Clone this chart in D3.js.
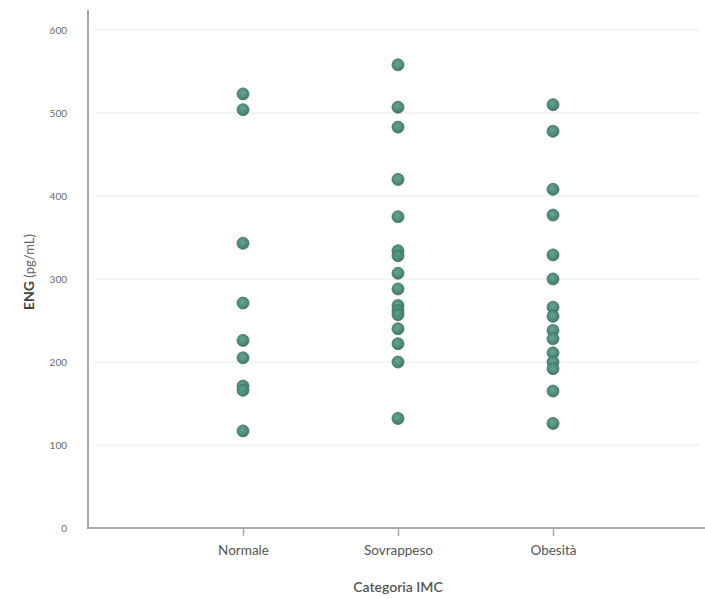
<!DOCTYPE html>
<html>
<head>
<meta charset="utf-8">
<script src="https://cdn.jsdelivr.net/npm/d3@7"></script>
<style>
  html, body { margin: 0; padding: 0; background: #ffffff; }
  svg { display: block; }
</style>
</head>
<body>
<div id="chart"></div>
<script>
const categories = ["Normale", "Sovrappeso", "Obesità"];
const normaleValues = [523, 504, 343, 271, 226, 205, 171, 166, 117];
const sovrappesoValues = [558, 507, 483, 420, 375, 334, 328, 307, 288, 268, 262, 257, 240, 222, 200, 132];
const obesitaValues = [510, 478, 408, 377, 329, 300, 266, 255, 238, 228, 211, 200, 192, 165, 126];
const yTicks = [0, 100, 200, 300, 400, 500, 600];
const yTitle = "ENG";
const yTitleUnit = "(pg/mL)";
const xTitle = "Categoria IMC";

const seriesValues = [normaleValues, sovrappesoValues, obesitaValues];
const points = [];
categories.forEach((c, i) => seriesValues[i].forEach(v => points.push({cat: c, value: v})));

const W = 705, H = 599;
const svg = d3.select("#chart").append("svg").attr("width", W).attr("height", H);

const defs = svg.append("defs");
const grad = defs.append("radialGradient").attr("id", "dotGrad")
  .attr("cx", "45%").attr("cy", "40%").attr("r", "60%");
grad.append("stop").attr("offset", "0%").attr("stop-color", "#5f9f8c");
grad.append("stop").attr("offset", "70%").attr("stop-color", "#428372");
grad.append("stop").attr("offset", "100%").attr("stop-color", "#386d66");

const x = d3.scalePoint().domain(categories).range([88, 708]).padding(1);
const y = d3.scaleLinear().domain([0, 600]).range([528, 30]);

// gridlines
svg.append("g").selectAll("line").data(yTicks.filter(t => t > 0)).join("line")
  .attr("x1", 95).attr("x2", 700)
  .attr("y1", d => y(d)).attr("y2", d => y(d))
  .attr("stroke", "#f2f2f2").attr("stroke-width", 1.5);

// y axis
const yAxis = svg.append("g").attr("transform", "translate(88,0)")
  .call(d3.axisLeft(y).tickValues(yTicks).tickSize(0).tickPadding(21));
yAxis.select(".domain").attr("stroke", "#a8a8a8").attr("stroke-width", 2)
  .attr("d", `M0,10V${y(0)}`);
yAxis.selectAll("text").attr("font-family", "Lato, sans-serif").attr("font-size", 10)
  .attr("fill", "#6a6a6a");

// x axis
const xAxis = svg.append("g").attr("transform", `translate(0,${y(0)})`)
  .call(d3.axisBottom(x).tickSize(8).tickPadding(9));
xAxis.select(".domain").attr("stroke", "#a8a8a8").attr("stroke-width", 2)
  .attr("d", `M87,0H705`);
xAxis.selectAll(".tick line").attr("stroke", "#a8a8a8").attr("stroke-width", 1.5);
xAxis.selectAll("text").attr("font-family", "Lato, sans-serif").attr("font-size", 13.5)
  .attr("fill", "#555");

// axis titles
const yt = svg.append("text")
  .attr("transform", `translate(34,272) rotate(-90)`)
  .attr("text-anchor", "middle")
  .attr("font-family", "Lato, sans-serif").attr("font-size", 14).attr("fill", "#444");
yt.append("tspan").attr("font-weight", "bold").text(yTitle);
yt.append("tspan").attr("font-size", 13).attr("fill", "#666").text(" " + yTitleUnit);

svg.append("text").attr("x", x("Sovrappeso")).attr("y", 592)
  .attr("text-anchor", "middle").attr("font-family", "Lato, sans-serif")
  .attr("font-size", 14).attr("font-weight", "600").attr("fill", "#555")
  .text(xTitle);

// dots
svg.append("g").selectAll("circle").data(points).join("circle")
  .attr("cx", d => x(d.cat)).attr("cy", d => y(d.value)).attr("r", 6)
  .attr("fill", "url(#dotGrad)").attr("stroke", "#3d7468").attr("stroke-width", 0.8)
  .attr("fill-opacity", 0.95);
</script>
</body>
</html>
